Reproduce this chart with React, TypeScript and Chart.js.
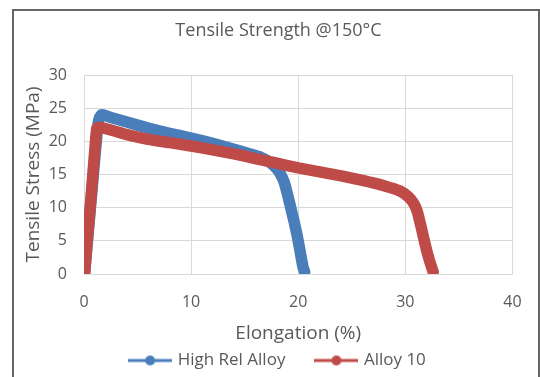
import React, { useEffect, useRef } from "react";
import { Chart, registerables } from "chart.js";

Chart.register(...registerables);

const chartTitle = "Tensile Strength @150°C";
const xAxisTitle = "Elongation (%)";
const yAxisTitle = "Tensile Stress (MPa)";
const seriesNames = ["High Rel Alloy", "Alloy 10"];

const highRelX = [0.05, 0.3, 0.6, 0.9, 1.15, 1.3, 1.45, 1.65, 2.0, 2.5, 4.0, 6.0, 8.0, 10.0, 12.0, 14.0, 15.5, 16.5, 17.2, 17.8, 18.3, 18.7, 19.0, 19.3, 19.6, 19.9, 20.2, 20.45, 20.6];
const highRelY = [0, 4.5, 10, 15.5, 20, 22.5, 23.6, 24.0, 23.9, 23.6, 22.9, 22.0, 21.2, 20.5, 19.7, 18.8, 18.1, 17.6, 17.0, 16.2, 15.2, 13.8, 12.0, 10.0, 8.0, 5.8, 3.2, 1.0, 0.3];

const alloy10X = [0.05, 0.3, 0.6, 0.85, 1.05, 1.2, 1.5, 2.5, 4.0, 6.0, 8.0, 10.0, 12.0, 14.0, 16.0, 18.0, 20.0, 22.0, 24.0, 26.0, 28.0, 29.5, 30.3, 30.8, 31.1, 31.4, 31.7, 32.0, 32.3, 32.6];
const alloy10Y = [0, 5, 10.5, 15.5, 19.5, 22.0, 22.1, 21.7, 21.0, 20.3, 19.8, 19.3, 18.7, 18.1, 17.4, 16.7, 16.0, 15.4, 14.8, 14.1, 13.3, 12.5, 11.6, 10.6, 9.5, 7.6, 5.5, 3.5, 1.8, 0.3];

const xTickMin = 0;
const xTickMax = 40;
const xTickStep = 10;
const yTickMin = 0;
const yTickMax = 30;
const yTickStep = 5;

const BLUE = "#4A7EBB";
const RED = "#BE4B48";
const TEXT = "#595959";
const GRID = "#D9D9D9";
const FONT = "'Open Sans', sans-serif";

function makeMarker(color: string): HTMLCanvasElement {
  const c = document.createElement("canvas");
  c.width = 44;
  c.height = 12;
  const ctx = c.getContext("2d")!;
  ctx.strokeStyle = color;
  ctx.lineWidth = 3;
  ctx.beginPath();
  ctx.moveTo(0, 6);
  ctx.lineTo(44, 6);
  ctx.stroke();
  ctx.fillStyle = color;
  ctx.beginPath();
  ctx.arc(22, 6, 5, 0, Math.PI * 2);
  ctx.fill();
  return c;
}

export default function App() {
  const ref = useRef<HTMLCanvasElement | null>(null);

  useEffect(() => {
    if (!ref.current) return;
    const markers = [makeMarker(BLUE), makeMarker(RED)];
    const toPts = (xs: number[], ys: number[]) => xs.map((x, i) => ({ x, y: ys[i] }));
    const chart = new Chart(ref.current, {
      type: "scatter",
      data: {
        datasets: [
          {
            label: seriesNames[0],
            data: toPts(highRelX, highRelY),
            showLine: true,
            borderColor: BLUE,
            backgroundColor: BLUE,
            borderWidth: 11.5,
            pointRadius: 0,
            borderCapStyle: "round",
            borderJoinStyle: "round",
            tension: 0.15,
            order: 2,
          },
          {
            label: seriesNames[1],
            data: toPts(alloy10X, alloy10Y),
            showLine: true,
            borderColor: RED,
            backgroundColor: RED,
            borderWidth: 11.5,
            pointRadius: 0,
            borderCapStyle: "round",
            borderJoinStyle: "round",
            tension: 0.15,
            order: 1,
          },
        ],
      },
      options: {
        animation: false,
        responsive: false,
        layout: { padding: { left: 42, right: 25, top: 0, bottom: 0 } },
        plugins: {
          title: {
            display: true,
            text: chartTitle,
            color: TEXT,
            font: { family: FONT, size: 18, weight: "normal" },
            padding: { top: 20.2, bottom: 33.2 },
          },
          legend: {
            display: true,
            position: "bottom",
            labels: {
              color: TEXT,
              font: { family: FONT, size: 17 },
              usePointStyle: true,
              pointStyleWidth: 38,
              padding: 32,
              generateLabels: (ch: any) => {
                const items = Chart.defaults.plugins.legend.labels.generateLabels(ch);
                return items
                  .map((it: any) => ({ ...it, pointStyle: markers[it.datasetIndex] }))
                  .sort((a: any, b: any) => a.datasetIndex - b.datasetIndex);
              },
            },
          },
          tooltip: { enabled: false },
        },
        scales: {
          x: {
            type: "linear",
            min: xTickMin,
            max: xTickMax,
            afterFit: (s: any) => {
              s.height = 46;
            },
            ticks: {
              stepSize: xTickStep,
              color: TEXT,
              padding: 18.4,
              font: { family: FONT, size: 16 },
            },
            grid: { color: GRID, drawTicks: false, lineWidth: 1 },
            border: { color: GRID },
            title: {
              display: true,
              text: xAxisTitle,
              color: TEXT,
              font: { family: FONT, size: 19 },
              padding: { top: 0, bottom: -25.4 },
            },
          },
          y: {
            type: "linear",
            min: yTickMin,
            max: yTickMax,
            afterFit: (s: any) => {
              s.width = 42;
            },
            ticks: {
              stepSize: yTickStep,
              color: TEXT,
              padding: 17,
              font: { family: FONT, size: 16 },
            },
            grid: { color: GRID, drawTicks: false, lineWidth: 1 },
            border: { color: GRID },
            title: {
              display: true,
              text: yAxisTitle,
              color: TEXT,
              font: { family: FONT, size: 19 },
              padding: { top: -19.4, bottom: 0 },
            },
          },
        },
      },
    } as any);
    return () => chart.destroy();
  }, []);

  return (
    <div
      style={{
        position: "fixed",
        left: 0,
        top: 0,
        width: 540,
        height: 377,
        overflow: "hidden",
        background: "#fff",
      }}
    >
      <div
        style={{
          position: "absolute",
          left: 12,
          top: 9,
          width: 528,
          height: 500,
          boxSizing: "border-box",
          border: "2px solid #666",
        }}
      />
      <canvas
        ref={ref}
        width={540}
        height={379}
        style={{ position: "absolute", left: 0, top: 0, width: 540, height: 379 }}
      />
    </div>
  );
}
